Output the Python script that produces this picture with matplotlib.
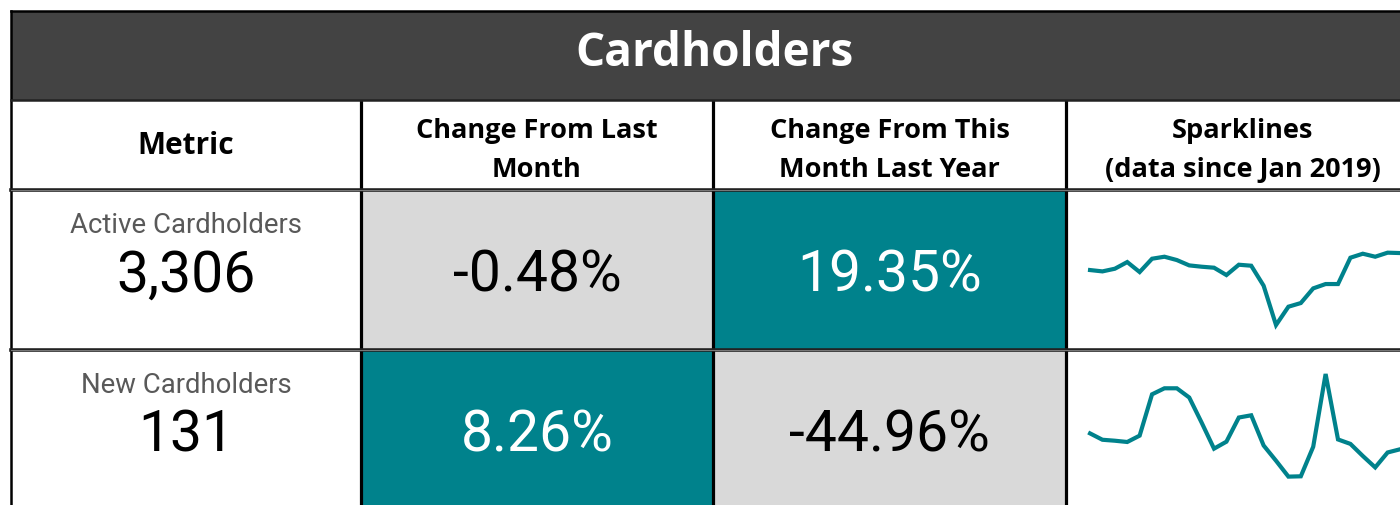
import matplotlib
matplotlib.use("Agg")
import matplotlib.pyplot as plt
from matplotlib.patches import Rectangle

# ---------------- data ----------------
title = "Cardholders"
headers = ["Metric", "Change From Last\nMonth", "Change From This\nMonth Last Year",
           "Sparklines\n(data since Jan 2019)"]
metrics = ["Active Cardholders", "New Cardholders"]
current_values = [3306, 131]
change_last_month = [-0.48, 8.26]
change_last_year = [19.35, -44.96]
active_series = [2587, 2530, 2643, 2925, 2502, 3066, 3151, 3010, 2784, 2728, 2686, 2375,
                 2812, 2770, 1924, 260, 1036, 1191, 1811, 1995, 1995, 3109, 3278, 3151,
                 3322, 3306]
new_series = [181, 161, 158, 154, 174, 304, 323, 323, 294, 215, 133, 155, 231, 238,
              143, 95, 45, 46, 139, 368, 162, 148, 110, 74, 121, 131]
series = [active_series, new_series]

# ---------------- style ----------------
TEAL = "#00828C"
GREY = "#D9D9D9"
DARK = "#434343"
W, H = 1400, 505
HEAD_FONT = "Open Sans"
VAL_FONT = "Roboto"

fig = plt.figure(figsize=(W / 100, H / 100), dpi=100)
ax = fig.add_axes([0, 0, 1, 1])
ax.set_xlim(0, W)
ax.set_ylim(H, 0)
ax.axis("off")

left, right = 11, 1419
col_x = [11, 361, 713, 1066, 1419]
title_top, title_bot = 11, 100
head_bot = 190
row_y = [190, 350, 510]

# title bar
ax.add_patch(Rectangle((left, title_top), right - left, title_bot - title_top,
                       facecolor=DARK, edgecolor="none", zorder=1))
ax.text((left + right) / 2, 66, title, color="white", fontsize=33, fontweight="bold",
        family=HEAD_FONT, ha="center", va="baseline", zorder=5)

# headers
for i, h in enumerate(headers):
    cx = (col_x[i] + col_x[i + 1]) / 2
    lines = h.split("\n")
    if len(lines) == 1:
        ax.text(cx, 154, lines[0], fontsize=21.5, fontweight="bold", family=HEAD_FONT,
                ha="center", va="baseline", color="black", zorder=5)
    else:
        ax.text(cx, 138, lines[0], fontsize=19.5, fontweight="bold", family=HEAD_FONT,
                ha="center", va="baseline", color="black", zorder=5)
        ax.text(cx, 177, lines[1], fontsize=19.5, fontweight="bold", family=HEAD_FONT,
                ha="center", va="baseline", color="black", zorder=5)

# rows
label_base = [233, 393]
value_base = [292, 452]
for r in range(len(metrics)):
    y0, y1 = row_y[r], row_y[r + 1]
    cx0 = (col_x[0] + col_x[1]) / 2
    ax.text(cx0, label_base[r], metrics[r], fontsize=19.8, family=VAL_FONT,
            color="#595959", ha="center", va="baseline", zorder=5)
    ax.text(cx0, value_base[r], f"{current_values[r]:,}", fontsize=41, family=VAL_FONT,
            color="black", ha="center", va="baseline", zorder=5)
    for c, vals in ((1, change_last_month), (2, change_last_year)):
        v = vals[r]
        pos = v > 0
        ax.add_patch(Rectangle((col_x[c], y0), col_x[c + 1] - col_x[c], y1 - y0,
                               facecolor=TEAL if pos else GREY, edgecolor="none", zorder=1))
        ax.text((col_x[c] + col_x[c + 1]) / 2, value_base[r], f"{v:.2f}%", fontsize=41,
                family=VAL_FONT, color="white" if pos else "black",
                ha="center", va="baseline", zorder=5)

# borders
for x in col_x[1:4]:
    ax.plot([x, x], [title_bot, H + 5], color="black", lw=2.3, zorder=6,
            solid_capstyle="butt")
ax.plot([left, left], [title_top, H + 5], color="black", lw=1.8, zorder=6)
ax.plot([left, right], [title_top, title_top], color="black", lw=1.8, zorder=6)
ax.plot([left, right], [title_bot, title_bot], color="#222222", lw=1.8, zorder=6)
for y in (head_bot, row_y[1]):
    ax.plot([left, right], [y, y], color="#222222", lw=2.6, zorder=6)
    ax.plot([left, right], [y, y], color="#888888", lw=0.6, zorder=7)

# sparklines
spark_ylims = [(-796, 5974), (-44.3, 443.5)]
spark_rows = [(190, 350), (350, 505)]
for r, s in enumerate(series):
    top, bot = spark_rows[r]
    sax = fig.add_axes([col_x[3] / W, (H - bot) / H, (W - col_x[3]) / W, (bot - top) / H])
    sax.plot(range(len(s)), s, color=TEAL, lw=3.0, solid_joinstyle="miter")
    sax.set_xlim(-1.94, 25.0)
    sax.set_ylim(*spark_ylims[r])
    sax.axis("off")
    sax.patch.set_alpha(0)

fig.savefig("out.png", dpi=100)
